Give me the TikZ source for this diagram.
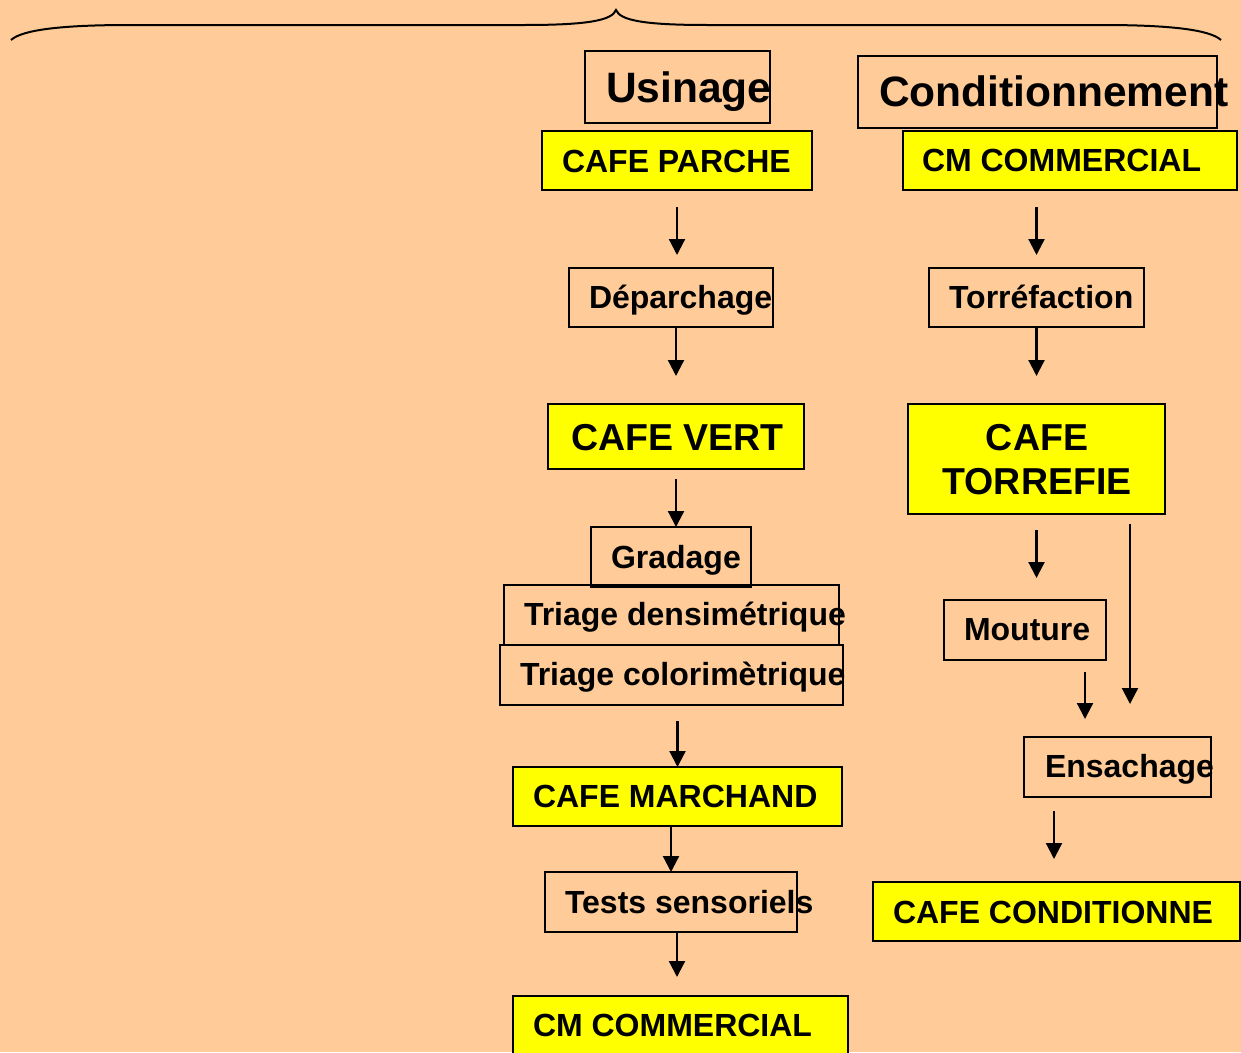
\documentclass[tikz,border=0pt]{standalone}
\usepackage{fontspec}
\setmainfont{Liberation Sans}
\usetikzlibrary{arrows.meta,calc}
\definecolor{bgpeach}{HTML}{FFCC99}
\definecolor{ylw}{HTML}{FFFF00}
\newcommand\fsA{\fontsize{32}{36}\selectfont\bfseries}
\newcommand\fsB{\fontsize{37.5}{44}\selectfont\bfseries}
\newcommand\fsC{\fontsize{42.5}{50}\selectfont\bfseries}
\tikzset{
  box/.style={draw=black, line width=1.5pt, anchor=north west, inner sep=0pt, outer sep=0pt},
  ybox/.style={box, fill=ylw},
  lbl/.style={anchor=base west, inner sep=0pt, outer sep=0pt, text=black},
  arr/.style={line width=2.2pt, -{Triangle[length=16pt,width=16pt]}},
}
\begin{document}
\begin{tikzpicture}[x=1pt,y=-1pt]
\clip (0,0) rectangle (1241,1052);
\fill[bgpeach] (0,0) rectangle (1241,1052);
% brace
\draw[line width=2pt] (11,40) .. controls (22,30) and (60,25) .. (130,25) -- (525,25)
  .. controls (590,25) and (612,20) .. (616,10)
  .. controls (620,20) and (642,25) .. (707,25) -- (1102,25)
  .. controls (1172,25) and (1210,30) .. (1221,40);
% headers
\node[box, minimum width=185pt, minimum height=72pt] (us) at (585,51) {};
\node[lbl, font=\fsC] (usT) at (606,102) {Usinage};
\node[box, minimum width=359pt, minimum height=72pt] (cond) at (858,56) {};
\node[lbl, font=\fsC] (condT) at (879,106) {Conditionnement};
% left column
\node[ybox, minimum width=270pt, minimum height=59pt] (cp) at (542,131) {};
\node[lbl, font=\fsA] (cpT) at (562,172) {CAFE PARCHE};
\node[box, minimum width=204pt, minimum height=59pt] (dep) at (569,268) {};
\node[lbl, font=\fsA] (depT) at (589,308) {Déparchage};
\node[ybox, minimum width=256pt, minimum height=65pt] (cv) at (548,404) {};
\node[lbl, font=\fsB] (cvT) at (571,450) {CAFE VERT};
\node[box, minimum width=160pt, minimum height=60pt] (grad) at (591,527) {};
\node[lbl, font=\fsA] (gradT) at (611,568) {Gradage};
\node[box, minimum width=335pt, minimum height=60pt] (td) at (504,585) {};
\node[lbl, font=\fsA] (tdT) at (524,625) {Triage densimétrique};
\node[box, minimum width=343pt, minimum height=60pt] (tc) at (500,645) {};
\node[lbl, font=\fsA] (tcT) at (520,685) {Triage colorimètrique};
\node[ybox, minimum width=329pt, minimum height=59pt] (cmar) at (513,767) {};
\node[lbl, font=\fsA] (cmarT) at (533,807) {CAFE MARCHAND};
\node[box, minimum width=252pt, minimum height=60pt] (ts) at (545,872) {};
\node[lbl, font=\fsA] (tsT) at (565,913) {Tests sensoriels};
\node[ybox, minimum width=335pt, minimum height=70pt] (cml) at (513,996) {};
\node[lbl, font=\fsA] (cmlT) at (533,1036) {CM COMMERCIAL};
% right column
\node[ybox, minimum width=334pt, minimum height=59pt] (cmr) at (903,131) {};
\node[lbl, font=\fsA] (cmrT) at (922,171) {CM COMMERCIAL};
\node[box, minimum width=215pt, minimum height=59pt] (tor) at (929,268) {};
\node[lbl, font=\fsA] (torT) at (949,308) {Torréfaction};
\node[ybox, minimum width=257pt, minimum height=110pt] (ct) at (908,404) {};
\node[font=\fsB, anchor=base, inner sep=0pt] (ctA) at (1037,450) {CAFE};
\node[font=\fsB, anchor=base, inner sep=0pt] (ctB) at (1037,494) {TORREFIE};
\node[box, minimum width=162pt, minimum height=60pt] (mou) at (944,600) {};
\node[lbl, font=\fsA] (mouT) at (964,640) {Mouture};
\node[box, minimum width=187pt, minimum height=60pt] (ens) at (1024,737) {};
\node[lbl, font=\fsA] (ensT) at (1045,777) {Ensachage};
\node[ybox, minimum width=367pt, minimum height=59pt] (ccond) at (873,882) {};
\node[lbl, font=\fsA] (ccondT) at (893,923) {CAFE CONDITIONNE};
% arrows left
\draw[arr, shorten <=17pt, shorten >=13pt] (cp.south) -- (cp.south |- dep.north);
\draw[arr, shorten >=28pt] (dep.south -| cv.north) -- (cv.north);
\draw[arr, shorten <=10pt] (cv.south) -- (cv.south |- grad.north);
\draw[arr, shorten <=16pt] (cmar.north |- tc.south) -- (cmar.north);
\draw[arr] (ts.north |- cmar.south) -- (ts.north);
\draw[arr, shorten >=19pt] ([xshift=6pt]ts.south) -- ([xshift=6pt]ts.south |- cml.north);
% arrows right
\draw[arr, shorten <=17pt, shorten >=13pt] (tor.north |- cmr.south) -- (tor.north);
\draw[arr, shorten >=28pt] (tor.south) -- (tor.south |- ct.north);
\draw[arr, shorten <=16pt, shorten >=22pt] (ct.south) -- (ct.south |- mou.north);
\draw[arr, shorten <=10pt, shorten >=33pt] ([xshift=93.5pt]ct.south) -- ([xshift=93.5pt]ct.south |- ens.north);
\draw[arr, shorten <=12pt, shorten >=18pt] ([xshift=60pt]mou.south) -- ([xshift=60pt]mou.south |- ens.north);
\draw[arr, shorten <=14pt, shorten >=23pt] ([xshift=-63.5pt]ens.south) -- ([xshift=-63.5pt]ens.south |- ccond.north);
\end{tikzpicture}
\end{document}
